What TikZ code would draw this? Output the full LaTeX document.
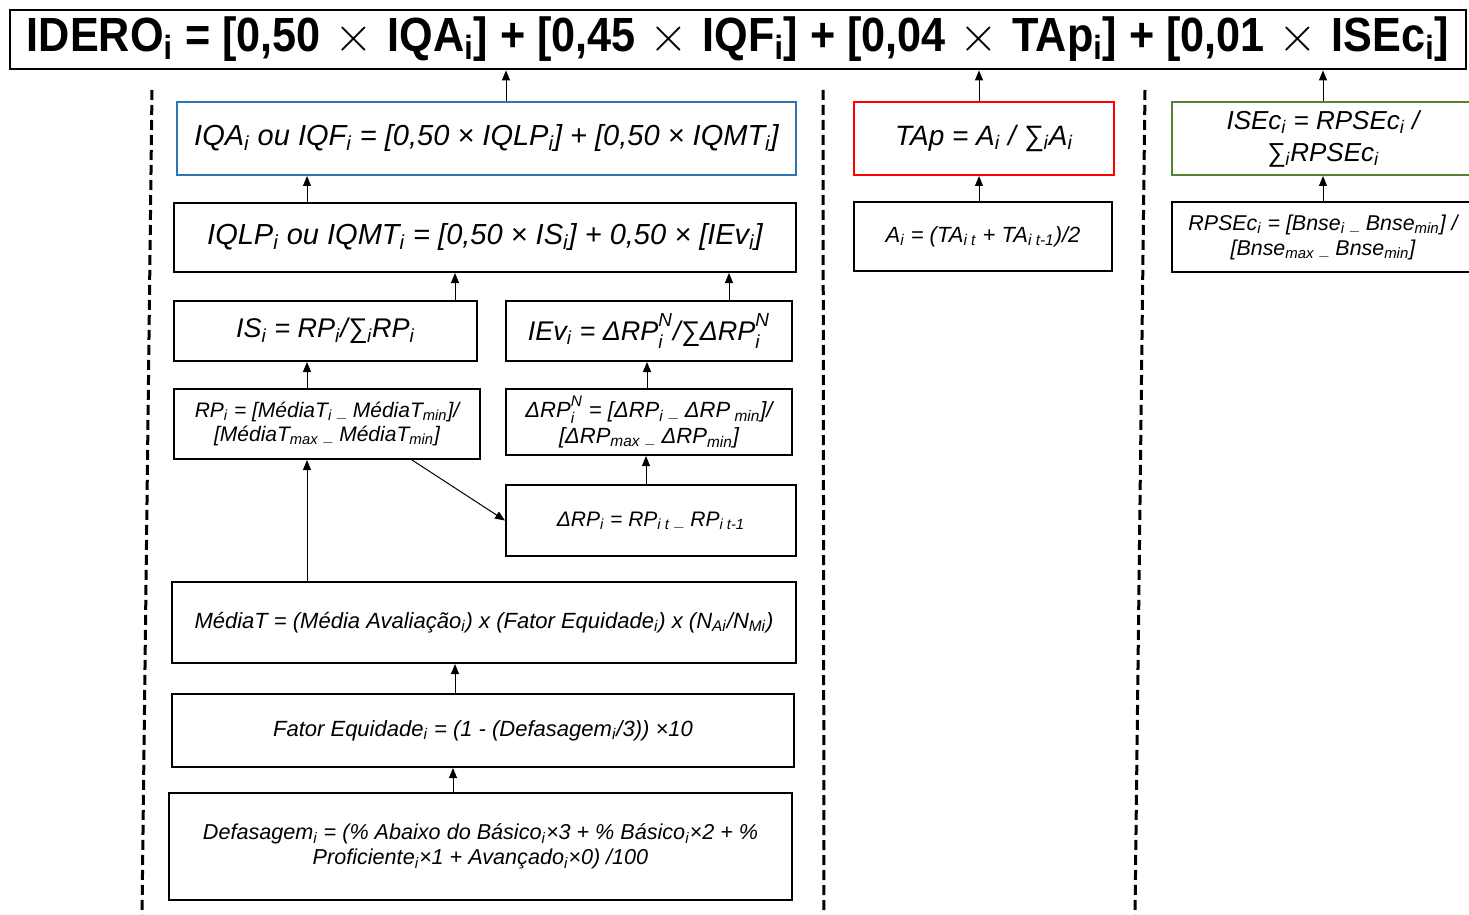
\documentclass[tikz,border=0pt]{standalone}
\usepackage{fontspec}
\setmainfont{Liberation Sans}
\newfontfamily\titlefont[FakeStretch=0.9]{Liberation Sans}
\usetikzlibrary{positioning, arrows.meta}
\definecolor{boxblue}{RGB}{46,117,182}
\definecolor{boxred}{RGB}{255,0,0}
\definecolor{boxgreen}{RGB}{84,130,53}
\newcommand{\subs}[1]{\textsubscript{#1}}
\newcommand{\ssp}[2]{\rlap{\textsubscript{\raisebox{-0.2em}{#1}}}\textsuperscript{\raisebox{0.2em}{#2}}}
\newcommand{\tms}{\hspace{7pt}{\fontsize{28}{28}\selectfont$\times$}\hspace{7pt}}
\newcommand{\lo}{{\footnotesize\_}}

\begin{document}
\begin{tikzpicture}[x=0.5pt, y=-0.5pt,
    fbox/.style={draw, line width=1pt, inner sep=0pt, align=center, font=\itshape},
    arr/.style={-{Triangle[length=5pt, width=4pt]}, line width=0.5pt},
    sep/.style={line width=1.5pt, dash pattern=on 5pt off 2.5pt}]
            \useasboundingbox (0,0) rectangle (1469,915);
            \node[draw, line width=1.4pt, inner sep=0pt, minimum width=728pt, minimum height=29.5pt,
                  font=\titlefont\fontsize{24}{28}\selectfont\bfseries] (T) at (738,39.5)
                {IDERO\subs{i} = [0,50\tms IQA\subs{i}] + [0,45\tms IQF\subs{i}] + [0,04\tms TAp\subs{i}] + [0,01\tms ISEc\subs{i}]};
            % coluna IQA / IQF
            \node[fbox, color=boxblue, text=black, minimum width=309.5pt, minimum height=36.5pt, font=\itshape\fontsize{14.5}{16}\selectfont] (IQA) at (486.5,138.5)
                {IQA\subs{i} ou IQF\subs{i} = [0,50 × IQLP\subs{i}] + [0,50 × IQMT\subs{i}]};
            \node[fbox, minimum width=311pt, minimum height=34.5pt, font=\itshape\fontsize{14.5}{16}\selectfont] (IQLP) at (485,237.5)
                {IQLP\subs{i} ou IQMT\subs{i} = [0,50 × IS\subs{i}] + 0,50 × [IEv\subs{i}]};
            \node[fbox, minimum width=151.5pt, minimum height=30pt, font=\itshape\fontsize{13.5}{15}\selectfont] (IS) at (325.5,331)
                {IS\subs{i} = RP\subs{i}/∑\subs{i}RP\subs{i}};
            \node[fbox, minimum width=143pt, minimum height=30pt, font=\itshape\fontsize{13.5}{15}\selectfont] (IEv) at (649,331)
                {IEv\subs{i} = ΔRP\ssp{i}{N}/∑ΔRP\ssp{i}{N}};
            \node[fbox, minimum width=153pt, minimum height=35pt, font=\itshape\fontsize{10.5}{12}\selectfont] (RP) at (327,424)
                {RP\subs{i} = [MédiaT\subs{i} \lo{} MédiaT\subs{min}]/\\{}[MédiaT\subs{max} \lo{} MédiaT\subs{min}]};
            \node[fbox, minimum width=143pt, minimum height=33pt, font=\itshape\fontsize{11}{13}\selectfont] (dRPN) at (649,422)
                {ΔRP\ssp{i}{N} = [ΔRP\subs{i} \lo{} ΔRP\subs{ min}]/\\{}[ΔRP\subs{max} \lo{} ΔRP\subs{min}]};
            \node[fbox, minimum width=145pt, minimum height=35.5pt, font=\itshape\fontsize{10.5}{12}\selectfont] (dRP) at (651,520.5)
                {ΔRP\subs{i} = RP\subs{i t} \lo{} RP\subs{i t-1}};
            \node[fbox, minimum width=312pt, minimum height=40.5pt, font=\itshape\fontsize{11}{13}\selectfont] (MT) at (484,622.5)
                {MédiaT = (Média Avaliação\subs{i}) x (Fator Equidade\subs{i}) x (N\subs{Ai}/N\subs{Mi})};
            \node[fbox, minimum width=311pt, minimum height=36.5pt, font=\itshape\fontsize{11}{13}\selectfont] (FE) at (483,730.5)
                {Fator Equidade\subs{i} = (1 - (Defasagem\subs{i}/3)) ×10};
            \node[fbox, minimum width=311.5pt, minimum height=53.5pt, font=\itshape\fontsize{10.8}{12.5}\selectfont] (DF) at (480.5,846.5)
                {Defasagem\subs{i} = (\% Abaixo do Básico\subs{i}×3 + \% Básico\subs{i}×2 + \%\\ Proficiente\subs{i}×1 + Avançado\subs{i}×0) /100};
            % coluna TAp
            \node[fbox, color=boxred, text=black, minimum width=130pt, minimum height=36.5pt, font=\itshape\fontsize{14}{16}\selectfont] (TAp) at (984,138.5)
                {TAp = A\subs{i} / ∑\subs{i}A\subs{i}};
            \node[fbox, minimum width=129pt, minimum height=34.5pt, font=\itshape\fontsize{11}{13}\selectfont] (Ai) at (983,236.5)
                {A\subs{i} = (TA\subs{i t} + TA\subs{i t-1})/2};
            % coluna ISEc
            \node[fbox, color=boxgreen, text=black, minimum width=151pt, minimum height=36.5pt, font=\itshape\fontsize{13}{16}\selectfont] (ISEc) at (1323,138.5)
                {ISEc\subs{i} = RPSEc\subs{i} /\\ ∑\subs{i}RPSEc\subs{i}};
            \node[fbox, minimum width=151pt, minimum height=35pt, font=\itshape\fontsize{10.7}{12.5}\selectfont] (RPSEc) at (1323,237)
                {RPSEc\subs{i} = [Bnse\subs{i} \lo{} Bnse\subs{min}] /\\{}[Bnse\subs{max} \lo{} Bnse\subs{min}]};
            % separadores
            \draw[sep] (152,90) -- (142,915);
            \draw[sep] (823,90) -- (824,915);
            \draw[sep] (1145,90) -- (1135,915);
            % setas
            \draw[arr] (IQA.north -| 506,0) -- (T.south -| 506,0);
            \draw[arr] (TAp.north -| 979,0) -- (T.south -| 979,0);
            \draw[arr] (ISEc.north -| 1323,0) -- (T.south -| 1323,0);
            \draw[arr] (IQLP.north -| 307,0) -- (IQA.south -| 307,0);
            \draw[arr] (IS.north -| 455,0) -- (IQLP.south -| 455,0);
            \draw[arr] (IEv.north -| 729,0) -- (IQLP.south -| 729,0);
            \draw[arr] (RP.north -| 307,0) -- (IS.south -| 307,0);
            \draw[arr] (dRPN.north -| 647,0) -- (IEv.south -| 647,0);
            \draw[arr] (dRP.north -| 646,0) -- (dRPN.south -| 646,0);
            \draw[arr] (RP.south -| 412,0) -- (dRP.west);
            \draw[arr] (MT.north -| 307,0) -- (RP.south -| 307,0);
            \draw[arr] (FE.north -| 455,0) -- (MT.south -| 455,0);
            \draw[arr] (DF.north -| 453,0) -- (FE.south -| 453,0);
            \draw[arr] (Ai.north -| 979,0) -- (TAp.south -| 979,0);
            \draw[arr] (RPSEc.north -| 1323,0) -- (ISEc.south -| 1323,0);
        \end{tikzpicture}
\end{document}
